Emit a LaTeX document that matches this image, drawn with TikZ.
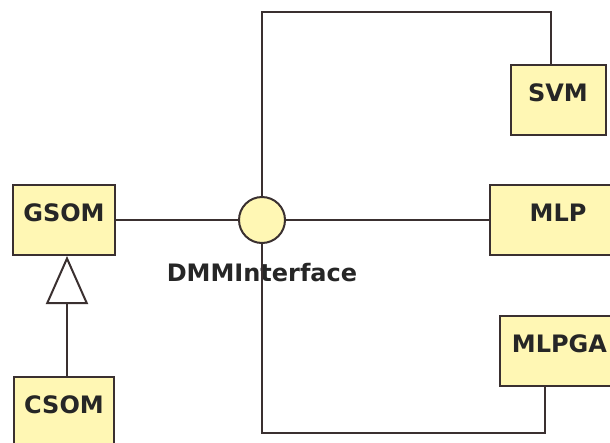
\documentclass[tikz,border=0pt]{standalone}
\usepackage{fontspec}
\setmainfont{DejaVu Sans}
\usepackage{xcolor}
\usepackage{tikz}
\usetikzlibrary{arrows.meta, positioning}
\definecolor{umlFill}{RGB}{255,247,180}
\definecolor{umlLine}{RGB}{58,48,48}
\begin{document}
\begin{tikzpicture}[x=1pt, y=-1pt,
  cls/.style={rectangle, draw=umlLine, fill=umlFill, line width=2pt,
              minimum height=70pt, inner sep=0pt, text height=18pt, text depth=16pt,
              font=\fontsize{24}{28}\selectfont\bfseries, text=black!85},
  iface/.style={circle, draw=umlLine, fill=umlFill, line width=2pt, minimum size=46pt, inner sep=0pt},
  wire/.style={draw=umlLine, line width=2pt},
  inherit/.style={wire, -{Triangle[open, length=48pt, width=42pt]}}
]
\useasboundingbox (0,0) rectangle (610,442);
\node[iface] (dmm) at (262,220) {};
\node[below=19pt of dmm, inner sep=0pt, font=\fontsize{24}{28}\selectfont\bfseries, text=black!85]
  (dmmlabel) {DMMInterface};
\node[cls, minimum width=102pt, left=122pt of dmm] (gsom) {GSOM};
\node[cls, minimum width=100pt, below=120pt of gsom] (csom) {CSOM};
\node[cls, minimum width=136pt, right=203pt of dmm] (mlp) {MLP};
\node[cls, minimum width=95pt, above=48pt of mlp] (svm) {SVM};
\node[cls, minimum width=119pt, below=59pt of mlp, xshift=1.5pt] (mlpga) {MLPGA};
\coordinate (topbend) at (262,12);
\coordinate (botbend) at (262,433);
% interface links
\draw[wire] (gsom) -- (dmm);
\draw[wire] (dmm) -- (mlp);
\draw[wire] (dmm.north) -- (topbend) -| ([xshift=-7.5pt]svm.north);
\draw[wire] (dmm.south) -- (botbend) -| ([xshift=-14.5pt]mlpga.south);
% generalisation
\draw[inherit] ([xshift=3pt]csom.north) -- ([xshift=3pt]gsom.south);
\end{tikzpicture}
\end{document}
